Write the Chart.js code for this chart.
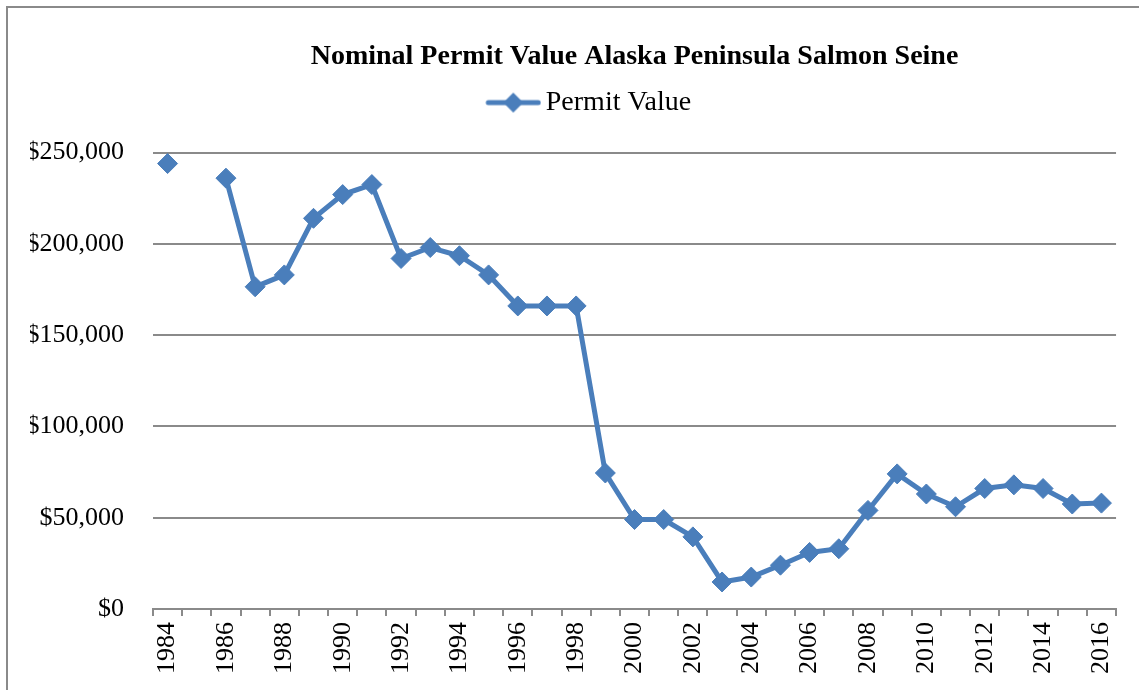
<!DOCTYPE html>
<html>
<head>
<meta charset="utf-8">
<title>Nominal Permit Value Alaska Peninsula Salmon Seine</title>
<script src="https://cdn.jsdelivr.net/npm/chart.js@4/dist/chart.umd.min.js"></script>
<style>
  html, body { margin: 0; padding: 0; background: #fff; overflow: hidden; }
  #wrap { position: absolute; left: 0; top: 0; width: 1139px; height: 690px; }
  #frame { position: absolute; left: 6px; top: 6px; width: 1200px; height: 750px; border-left: 2px solid #8a8a8a; border-top: 2px solid #8a8a8a; }
  canvas { position: absolute; left: 0; top: 0; }
</style>
</head>
<body>
<div id="wrap">
  <div id="frame"></div>
  <canvas id="mycanvas" width="1139" height="690"></canvas>
</div>
<script>
// values (1985 has no value)
var years = ['1984','1985','1986','1987','1988','1989','1990','1991','1992','1993','1994',
             '1995','1996','1997','1998','1999','2000','2001','2002','2003','2004','2005',
             '2006','2007','2008','2009','2010','2011','2012','2013','2014','2015','2016'];
var permitValue = [244000, null, 236000, 176500, 183000, 214000, 227000, 232500, 192000, 198000, 193500,
                   183000, 166000, 166000, 166000, 74500, 49000, 49000, 39500, 14800, 17500, 24000,
                   31000, 33000, 54000, 74000, 63000, 56000, 66000, 68000, 66000, 57500, 58000];
var yTicks = [0, 50000, 100000, 150000, 200000, 250000];

var blue = '#4a7ebb';
var serif = "'Liberation Serif', 'Times New Roman', serif";

// legend marker: line with a diamond in the middle (left part left empty to sit it nearer the text)
var marker = document.createElement('canvas');
marker.width = 84; marker.height = 22;
var mctx = marker.getContext('2d');
mctx.strokeStyle = blue; mctx.lineWidth = 5; mctx.lineCap = 'round';
mctx.beginPath(); mctx.moveTo(31, 11); mctx.lineTo(81, 11); mctx.stroke();
mctx.fillStyle = blue;
mctx.beginPath(); mctx.moveTo(56, 1); mctx.lineTo(66, 11); mctx.lineTo(56, 21); mctx.lineTo(46, 11); mctx.closePath(); mctx.fill();

var ctx = document.getElementById('mycanvas');

var LineGraph = new Chart(ctx, {
  type: 'line',
  data: {
    labels: years,
    datasets: [{
      label: 'Permit Value',
      data: permitValue,
      fill: false,
      lineTension: 0,
      borderColor: blue,
      backgroundColor: blue,
      borderWidth: 5,
      pointStyle: 'rectRot',
      pointRadius: 10,
      pointHoverRadius: 10,
      pointBorderWidth: 1,
      pointBorderColor: blue,
      pointBackgroundColor: blue,
      spanGaps: false
    }]
  },
  options: {
    responsive: false,
    animation: false,
    layout: { padding: { left: 30, right: 11, top: 0, bottom: 0 } },
    plugins: {
      title: {
        display: true,
        text: 'Nominal Permit Value Alaska Peninsula Salmon Seine',
        fullSize: false,
        color: '#000',
        font: { family: serif, size: 28, weight: 'bold', lineHeight: 1.2 },
        padding: { top: 40, bottom: 0 }
      },
      subtitle: {
        display: true,
        text: '',
        weight: 500,
        font: { size: 10, lineHeight: 1 },
        padding: { top: 0, bottom: 16 }
      },
      legend: {
        display: true,
        labels: {
          color: '#000',
          font: { family: serif, size: 28 },
          usePointStyle: true,
          pointStyle: marker,
          pointStyleWidth: 65,
          padding: 15,
          generateLabels: function(chart) {
            var items = Chart.defaults.plugins.legend.labels.generateLabels(chart);
            items.forEach(function(it) { it.pointStyle = marker; });
            return items;
          }
        }
      },
      tooltip: { enabled: false }
    },
    scales: {
      x: {
        offset: true,
        grid: { display: true, drawOnChartArea: false, drawTicks: true, tickLength: 7, color: '#8a8a8a', lineWidth: 2, offset: true },
        border: { display: true, color: '#8a8a8a', width: 2 },
        ticks: {
          autoSkip: false,
          minRotation: 90,
          maxRotation: 90,
          padding: 6,
          color: '#000',
          font: { family: serif, size: 26 },
          callback: function(value, index) {
            var lab = this.getLabelForValue(value);
            return (parseInt(lab) % 2 === 0) ? lab : '';
          }
        },
        afterFit: function(scale) { scale.height = 81; }
      },
      y: {
        min: 0,
        max: 250000,
        afterBuildTicks: function(scale) { scale.ticks = yTicks.map(function(v) { return { value: v }; }); },
        grid: { color: '#8a8a8a', lineWidth: 2, drawTicks: false },
        border: { display: false },
        ticks: {
          padding: 29,
          color: '#000',
          font: { family: serif, size: 26 },
          callback: function(value) { return '$' + value.toLocaleString('en-US'); }
        },
        afterFit: function(scale) { scale.width = 123; }
      }
    }
  }
});
</script>
</body>
</html>
